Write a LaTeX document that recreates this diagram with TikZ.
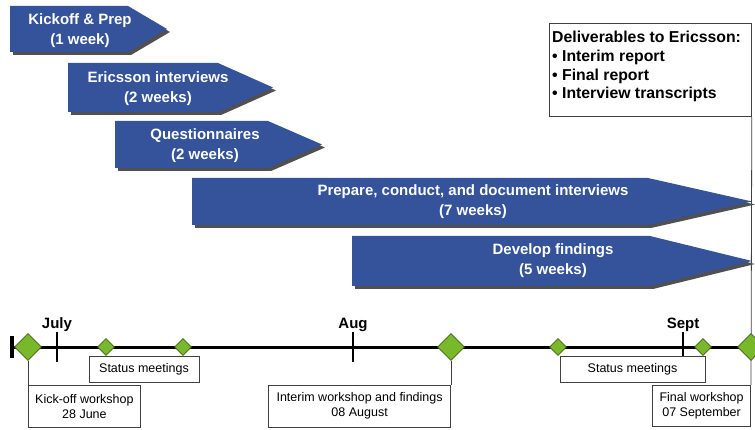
\documentclass[tikz,border=0pt]{standalone}
\usepackage{fontspec}
\setmainfont{Liberation Sans}
\usepackage{tikz}
\usetikzlibrary{positioning, shapes.geometric, calc, backgrounds}
\definecolor{barBlue}{HTML}{34539B}
\definecolor{barShade}{HTML}{505050}
\definecolor{msGreen}{HTML}{78B82A}
\definecolor{msGreenB}{HTML}{3F6415}
\definecolor{noteB}{HTML}{404040}
\newcommand{\phasebar}[5]{\fill[barShade, shift={(3,3)}] (#1,#2) -- (#3,#2) -- (#4,{(#2+#5)/2}) -- (#3,#5) -- (#1,#5) -- cycle; \fill[barBlue] (#1,#2) -- (#3,#2) -- (#4,{(#2+#5)/2}) -- (#3,#5) -- (#1,#5) -- cycle;}

\begin{document}
\begin{tikzpicture}[x=1pt, y=-1pt, phase/.style={text=white, font=\fontsize{15}{20}\selectfont\bfseries, align=center, inner sep=0pt},month/.style={font=\fontsize{15}{18}\selectfont\bfseries, anchor=base, inner sep=0pt},note/.style={draw=noteB, fill=white, line width=0.8pt, font=\fontsize{12.5}{15}\selectfont, align=center, inner sep=0pt},msBig/.style={diamond, draw=msGreenB, fill=msGreen, line width=0.6pt, inner sep=0pt, minimum size=27pt},msSmall/.style={msBig, minimum size=17pt},tick/.style={line width=2.5pt},conn/.style={draw=noteB, line width=0.8pt}]
\useasboundingbox (0,0) rectangle (755,430);
\node[draw=noteB, line width=0.8pt, anchor=north west, minimum width=202pt, minimum height=93pt, inner sep=0pt] (deliv) at (549,23) {};
\node[anchor=north west, inner sep=0pt, align=left, font=\fontsize{15.8}{18.7}\selectfont\bfseries] (delivTxt) at ([xshift=3pt, yshift=-8pt]deliv.north west) {Deliverables to Ericsson:\\\textbullet{} Interim report\\\textbullet{} Final report\\\textbullet{} Interview transcripts};
\phasebar{10}{6}{128}{167}{52}
\node[phase] (kick) at (80,31) {Kickoff \& Prep\\(1 week)};
\phasebar{68}{63}{218}{273}{112}
\node[phase] (eri) at (158,89) {Ericsson interviews\\(2 weeks)};
\phasebar{115}{121}{268}{322}{168}
\node[phase] (quest) at (205,146) {Questionnaires\\(2 weeks)};
\phasebar{192}{178}{648}{752}{225}
\node[phase] (prep) at (473,202) {Prepare, conduct, and document interviews\\(7 weeks)};
\phasebar{352}{236}{650}{752}{286}
\node[phase] (dev) at (553,261) {Develop findings\\(5 weeks)};
\coordinate (t0) at (12,347); \coordinate (tEnd) at (755,347);
\draw[line width=3pt] (t0) -- (tEnd);
\draw[line width=4pt] ([yshift=11pt]t0) -- ([yshift=-11pt]t0);
\foreach \x/\m/\n in {57/July/jul, 353/Aug/aug, 683/Sept/sep} {\draw[tick] (\x,332) -- (\x,362); \node[month] (\n) at (\x,329) {\m};}
\node[msBig] (mKick) at (28,347) {}; \node[msSmall] (mSt1) at (106,347) {}; \node[msSmall] (mSt2) at (183,347) {};
\node[msBig] (mInt) at (451,347) {}; \node[msSmall] (mSt3) at (558,347) {}; \node[msSmall] (mSt4) at (703,347) {};
\node[msBig] (mFin) at (751,347) {};
\node[note, minimum width=110pt, minimum height=26pt] (st1) at (144,369) {Status meetings};
\node[note, minimum width=145pt, minimum height=26pt] (st2) at (632.5,369) {Status meetings};
\node[note, minimum width=112pt, minimum height=42pt, anchor=north west] (kow) at ([yshift=-24pt]mKick.south) {Kick-off workshop\\28 June};
\node[note, minimum width=182pt, minimum height=42pt, anchor=north east] (intw) at ([yshift=-24pt]mInt.south) {Interim workshop and findings\\08 August};
\node[note, minimum width=98pt, minimum height=41pt, anchor=north east] (finw) at ([yshift=-24pt]mFin.south) {Final workshop\\07 September};
\begin{scope}[on background layer]
\draw[conn] (mKick.south) -- (kow.north west);
\draw[conn] (mInt.south) -- (intw.north east);
\draw[conn] (deliv.south east) -- (finw.north east);
\end{scope}
\end{tikzpicture}
\end{document}
